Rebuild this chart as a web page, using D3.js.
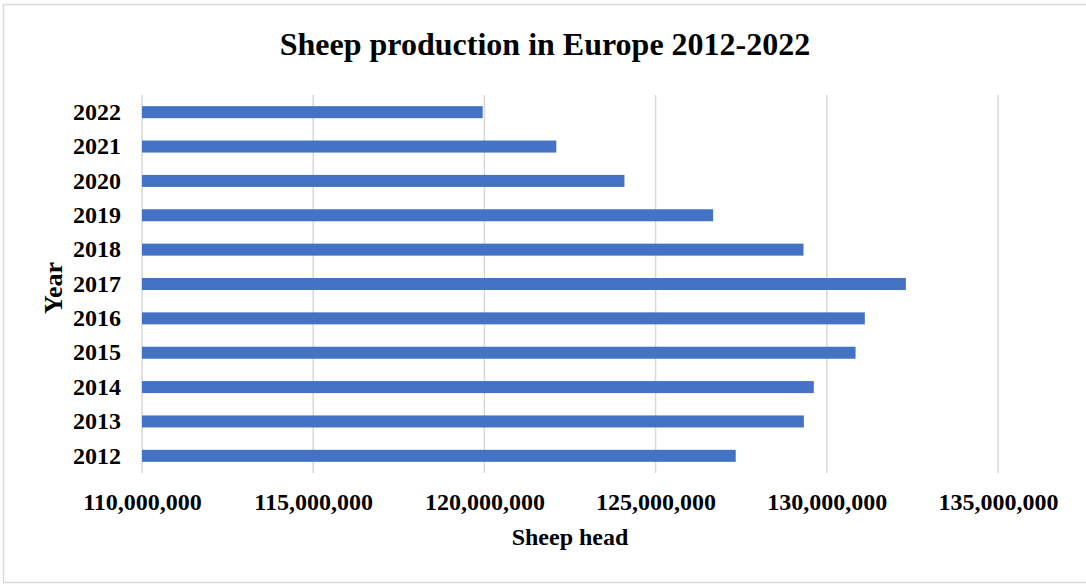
<!DOCTYPE html>
<html>
<head>
<meta charset="utf-8">
<script src="https://cdn.jsdelivr.net/npm/d3@7"></script>
<style>
  body { margin: 0; background: #fff; }
  svg text { font-family: "Liberation Serif", "Times New Roman", serif; font-weight: bold; fill: #000; }
</style>
</head>
<body>
<svg id="chart"></svg>
<script>
// values
var years = ["2012", "2013", "2014", "2015", "2016", "2017", "2018", "2019", "2020", "2021", "2022"];
var sheepHead = [127340000, 129330000, 129620000, 130840000, 131110000, 132310000, 129320000, 126680000, 124090000, 122100000, 119950000];
var xTicks = [110000000, 115000000, 120000000, 125000000, 130000000, 135000000];

var width = 1086, height = 584;
var plot = {left: 142, right: 998, top: 95, bottom: 473};

var svg = d3.select("#chart")
    .attr("width", width)
    .attr("height", height)

svg.append("rect")
    .attr("x", 3.5).attr("y", 4.5)
    .attr("width", 1090).attr("height", 578)
    .attr("fill", "#fff")
    .attr("stroke", "#d9d9d9")
    .attr("stroke-width", 1.5)

var x = d3.scaleLinear()
    .domain([110000000, 135000000])
    .range([plot.left, plot.right])

// 2022 at the top, 2012 at the bottom
var y = d3.scaleBand()
    .domain(years.slice().reverse())
    .range([plot.top, plot.bottom])
    .paddingInner(0.65)
    .paddingOuter(0.325)

// gridlines
svg.append("g")
    .selectAll("line")
    .data(xTicks)
    .enter().append("line")
    .attr("x1", d => x(d)).attr("x2", d => x(d))
    .attr("y1", plot.top).attr("y2", plot.bottom)
    .attr("stroke", "#d9d9d9")
    .attr("stroke-width", 1.5)

svg.append("g")
    .selectAll("rect")
    .data(years)
    .enter().append("rect")
    .attr("x", x(110000000))
    .attr("y", d => y(d))
    .attr("width", (d, i) => x(sheepHead[i]) - x(110000000))
    .attr("height", y.bandwidth())
    .attr("fill", "#4472c4")

var fmt = d3.format(",");

// x axis labels
var xAxis = svg.append("g")
    .attr("transform", "translate(0," + plot.bottom + ")")
    .call(d3.axisBottom(x).tickValues(xTicks).tickFormat(fmt).tickSize(0).tickPadding(20))
xAxis.select(".domain").remove()
xAxis.selectAll("text").style("font-size", "24px")

// y axis labels
var yAxis = svg.append("g")
    .attr("transform", "translate(" + plot.left + ",0)")
    .call(d3.axisLeft(y).tickSize(0).tickPadding(21))
yAxis.select(".domain").remove()
yAxis.selectAll("text").style("font-size", "24px")

svg.selectAll(".tick text").attr("font-family", null)

svg.append("text")
    .attr("x", 545).attr("y", 55)
    .attr("text-anchor", "middle")
    .style("font-size", "32px")
    .text("Sheep production in Europe 2012-2022")

svg.append("text")
    .attr("x", 570).attr("y", 545)
    .attr("text-anchor", "middle")
    .style("font-size", "24px")
    .text("Sheep head")

svg.append("text")
    .attr("transform", "translate(62,288) rotate(-90)")
    .attr("text-anchor", "middle")
    .style("font-size", "26px")
    .text("Year")
</script>
</body>
</html>
